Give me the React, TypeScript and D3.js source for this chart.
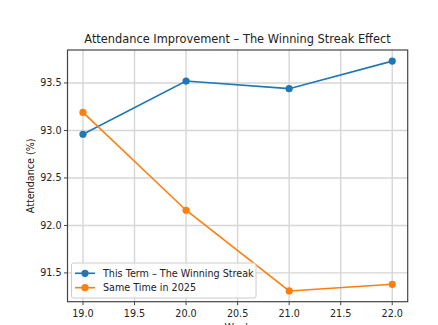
import React from "react";
import * as d3 from "d3";

const weeks = [19, 20, 21, 22];
const thisTerm = [92.96, 93.52, 93.44, 93.73];
const lastYear = [93.19, 92.16, 91.31, 91.38];
const xTicks = [19.0, 19.5, 20.0, 20.5, 21.0, 21.5, 22.0];
const yTicks = [91.5, 92.0, 92.5, 93.0, 93.5];
const seriesNames = ["This Term – The Winning Streak", "Same Time in 2025"];
const colors = ["#1f77b4", "#ff7f0e"];

const W = 438, H = 325;
const L = 67.5, R = 407.7, T = 50, B = 301.7;
const FONT = "DejaVu Sans, sans-serif";

export default function App() {
  const x = d3.scaleLinear().domain([18.85, 22.15]).range([L, R]);
  const y = d3.scaleLinear().domain([91.197, 93.847]).range([B, T]);
  const line = d3.line<number>().x((_, i) => x(weeks[i])).y((d) => y(d));
  const series = [thisTerm, lastYear];
  return (
    <svg width={W} height={H} style={{ position: "absolute", left: 0, top: 0, background: "#fff" }}>
      <rect width={W} height={H} fill="#fff" />
      {xTicks.map((t) => (
        <line key={"gx" + t} x1={x(t)} x2={x(t)} y1={T} y2={B} stroke="#d6d6d6" strokeWidth={1.4} />
      ))}
      {yTicks.map((t) => (
        <line key={"gy" + t} x1={L} x2={R} y1={y(t)} y2={y(t)} stroke="#d6d6d6" strokeWidth={1.4} />
      ))}
      {series.map((s, k) => (
        <g key={"s" + k}>
          <path d={line(s) || ""} fill="none" stroke={colors[k]} strokeWidth={1.6} />
          {s.map((v, i) => (
            <circle key={i} cx={x(weeks[i])} cy={y(v)} r={3.6} fill={colors[k]} />
          ))}
        </g>
      ))}
      <rect x={L} y={T} width={R - L} height={B - T} fill="none" stroke="#444" strokeWidth={1.2} />
      {xTicks.map((t) => (
        <g key={"tx" + t}>
          <line x1={x(t)} x2={x(t)} y1={B} y2={B + 3.5} stroke="#444" />
          <text x={x(t)} y={B + 15} textAnchor="middle" fontFamily={FONT} fontSize={9.6} fill="#222">
            {t.toFixed(1)}
          </text>
        </g>
      ))}
      {yTicks.map((t) => (
        <g key={"ty" + t}>
          <line x1={L - 3.5} x2={L} y1={y(t)} y2={y(t)} stroke="#444" />
          <text x={L - 6} y={y(t) + 3.5} textAnchor="end" fontFamily={FONT} fontSize={9.6} fill="#222">
            {t.toFixed(1)}
          </text>
        </g>
      ))}
      <text x={237.5} y={43} textAnchor="middle" fontFamily={FONT} fontSize={11.4} fill="#222">
        Attendance Improvement – The Winning Streak Effect
      </text>
      <text x={(L + R) / 2} y={B + 29} textAnchor="middle" fontFamily={FONT} fontSize={9.6} fill="#222">
        Week
      </text>
      <text transform={`translate(34,${(T + B) / 2}) rotate(-90)`} textAnchor="middle" fontFamily={FONT} fontSize={9.6} fill="#222">
        Attendance (%)
      </text>
      <g>
        <rect x={71.5} y={263} width={184.5} height={35} rx={2} fill="#fff" fillOpacity={0.8} stroke="#ccc" strokeWidth={1} />
        {seriesNames.map((n, k) => {
          const ly = 273.3 + k * 14.4;
          return (
            <g key={"lg" + k}>
              <line x1={75} x2={95} y1={ly} y2={ly} stroke={colors[k]} strokeWidth={1.6} />
              <circle cx={85} cy={ly} r={3.6} fill={colors[k]} />
              <text x={103} y={ly + 3.5} fontFamily={FONT} fontSize={9.6} fill="#222">
                {n}
              </text>
            </g>
          );
        })}
      </g>
    </svg>
  );
}
